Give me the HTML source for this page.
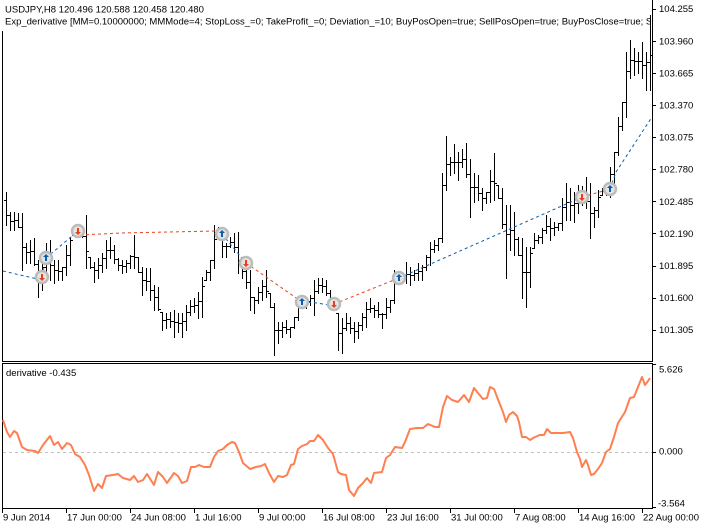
<!DOCTYPE html>
<html>
<head>
<meta charset="utf-8">
<style>
  html,body{margin:0;padding:0;background:#fff;}
  svg{display:block;}
  text{font-family:"Liberation Sans",Arial,sans-serif;font-size:9.5px;fill:#000;}
</style>
</head>
<body>
<svg width="705" height="528" viewBox="0 0 705 528" xmlns="http://www.w3.org/2000/svg">
  <defs>
    <clipPath id="hdr"><rect x="0" y="0" width="651" height="30"/></clipPath>
    <clipPath id="main"><rect x="3" y="0" width="649" height="361"/></clipPath>
  </defs>
  <rect width="705" height="528" fill="#fff"/>

  <!-- frames -->
  <g stroke="#000" stroke-width="1" shape-rendering="crispEdges" fill="none">
    <path d="M2.5 31V361.5H652.5V0"/>
    <path d="M2.5 363.5H652.5V508.5H2.5Z"/>
    <path d="M652 9.5h4M652 41.5h4M652 73.5h4M652 105.5h4M652 137.5h4M652 169.5h4M652 201.5h4M652 233.5h4M652 266.5h4M652 298.5h4M652 330.5h4"/>
    <path d="M652 364.5h4M652 452.5h4M652 507.5h4"/>
    <path d="M2.5 508V513M66.5 508V513M130.5 508V513M194.5 508V513M258.5 508V513M322.5 508V513M386.5 508V513M450.5 508V513M514.5 508V513M578.5 508V513M642.5 508V513"/>
  </g>

  <!-- price bars -->
  <g clip-path="url(#main)">
  <path stroke="#000" stroke-width="1" fill="none" shape-rendering="crispEdges" d="
M6.5 192V226M4 200.5h2M7 215.5h2
M10.5 212V231M8 215.5h2M11 221.5h2
M14.5 212V231M12 221.5h2M15 220.5h2
M18.5 213V228M16 220.5h2M19 227.5h2
M22.5 213V271M20 227.5h2M23 247.5h2
M26.5 243V264M24 247.5h2M27 252.5h2
M30.5 240V264M28 252.5h2M31 251.5h2
M34.5 238V266M32 251.5h2M35 264.5h2
M38.5 260V298M36 264.5h2M39 275.5h2
M42.5 257V291M40 275.5h2M43 267.5h2
M46.5 243V281M44 267.5h2M47 260.5h2
M50.5 240V281M48 260.5h2M51 265.5h2
M54.5 260V284M52 265.5h2M55 270.5h2
M58.5 260V281M56 270.5h2M59 271.5h2
M62.5 267V281M60 271.5h2M63 267.5h2
M66.5 245V276M64 267.5h2M67 255.5h2
M70.5 237V266M68 255.5h2M71 240.5h2
M74.5 225V236M72 235.5h2M75 231.5h2
M78.5 227V238M76 231.5h2M79 232.5h2
M82.5 227V238M80 232.5h2M83 236.5h2
M86.5 215V269M84 236.5h2M87 251.5h2
M90.5 257V269M88 257.5h2M91 267.5h2
M94.5 262V283M92 267.5h2M95 270.5h2
M98.5 258V279M96 270.5h2M99 265.5h2
M102.5 253V273M100 265.5h2M103 258.5h2
M106.5 240V269M104 258.5h2M107 250.5h2
M110.5 237V259M108 250.5h2M111 250.5h2
M114.5 245V264M112 250.5h2M115 259.5h2
M118.5 258V271M116 259.5h2M119 265.5h2
M122.5 260V274M120 265.5h2M123 266.5h2
M126.5 260V273M124 266.5h2M127 263.5h2
M130.5 255V269M128 263.5h2M131 256.5h2
M134.5 235V269M132 256.5h2M135 257.5h2
M138.5 257V273M136 257.5h2M139 272.5h2
M142.5 267V296M140 272.5h2M143 280.5h2
M146.5 268V291M144 280.5h2M147 281.5h2
M150.5 268V301M148 281.5h2M151 290.5h2
M154.5 285V311M152 290.5h2M155 297.5h2
M158.5 287V311M156 297.5h2M159 309.5h2
M162.5 312V331M160 312.5h2M163 320.5h2
M166.5 313V329M164 320.5h2M167 319.5h2
M170.5 312V328M168 319.5h2M171 321.5h2
M174.5 310V338M172 321.5h2M175 322.5h2
M178.5 313V333M176 322.5h2M179 323.5h2
M182.5 313V338M180 323.5h2M183 321.5h2
M186.5 305V331M184 321.5h2M187 312.5h2
M190.5 300V316M188 312.5h2M191 306.5h2
M194.5 298V313M192 306.5h2M195 305.5h2
M198.5 292V319M196 305.5h2M199 301.5h2
M202.5 277V318M200 301.5h2M203 286.5h2
M206.5 270V281M204 280.5h2M207 272.5h2
M210.5 260V281M208 272.5h2M211 260.5h2
M214.5 225V269M212 260.5h2M215 239.5h2
M218.5 227V238M216 237.5h2M219 237.5h2
M222.5 230V258M220 237.5h2M223 246.5h2
M226.5 243V258M224 246.5h2M227 246.5h2
M230.5 237V248M228 246.5h2M231 242.5h2
M234.5 233V253M232 242.5h2M235 247.5h2
M238.5 232V274M236 247.5h2M239 260.5h2
M242.5 258V279M240 260.5h2M243 271.5h2
M246.5 262V289M244 271.5h2M247 282.5h2
M250.5 270V311M248 282.5h2M251 297.5h2
M254.5 297V314M252 297.5h2M255 300.5h2
M258.5 287V304M256 300.5h2M259 292.5h2
M262.5 280V301M260 292.5h2M263 286.5h2
M266.5 270V298M264 286.5h2M267 291.5h2
M270.5 293V308M268 293.5h2M271 307.5h2
M274.5 303V356M272 307.5h2M275 330.5h2
M278.5 322V344M276 330.5h2M279 330.5h2
M282.5 322V338M280 330.5h2M283 327.5h2
M286.5 320V334M284 327.5h2M287 329.5h2
M290.5 327V338M288 329.5h2M291 327.5h2
M294.5 317V329M292 327.5h2M295 317.5h2
M298.5 297V321M296 317.5h2M299 305.5h2
M302.5 297V309M300 305.5h2M303 302.5h2
M306.5 298V309M304 302.5h2M307 301.5h2
M310.5 295V306M308 301.5h2M311 298.5h2
M314.5 280V316M312 298.5h2M315 291.5h2
M318.5 278V294M316 291.5h2M319 285.5h2
M322.5 278V293M320 285.5h2M323 286.5h2
M326.5 280V296M324 286.5h2M327 293.5h2
M330.5 290V309M328 293.5h2M331 302.5h2
M334.5 302V309M332 302.5h2M335 308.5h2
M338.5 313V351M336 313.5h2M339 333.5h2
M342.5 318V354M340 333.5h2M343 328.5h2
M346.5 313V331M344 328.5h2M347 323.5h2
M350.5 317V334M348 323.5h2M351 328.5h2
M354.5 322V343M352 328.5h2M355 331.5h2
M358.5 322V339M356 331.5h2M359 325.5h2
M362.5 313V331M360 325.5h2M363 317.5h2
M366.5 302V328M364 317.5h2M367 309.5h2
M370.5 298V313M368 309.5h2M371 308.5h2
M374.5 305V318M372 308.5h2M375 310.5h2
M378.5 302V318M376 310.5h2M379 314.5h2
M382.5 313V329M380 314.5h2M383 314.5h2
M386.5 298V319M384 314.5h2M387 307.5h2
M390.5 300V313M388 307.5h2M391 300.5h2
M394.5 270V304M392 300.5h2M395 281.5h2
M398.5 272V281M396 280.5h2M399 277.5h2
M402.5 277V283M400 277.5h2M403 277.5h2
M406.5 262V284M404 277.5h2M407 274.5h2
M410.5 267V286M408 274.5h2M411 275.5h2
M414.5 270V281M412 275.5h2M415 273.5h2
M418.5 263V281M416 273.5h2M419 271.5h2
M422.5 265V281M420 271.5h2M423 267.5h2
M426.5 255V271M424 267.5h2M427 257.5h2
M430.5 242V266M428 257.5h2M431 249.5h2
M434.5 240V253M432 249.5h2M435 245.5h2
M438.5 238V251M436 245.5h2M439 238.5h2
M442.5 173V243M440 238.5h2M443 185.5h2
M446.5 136V191M444 185.5h2M447 164.5h2
M450.5 157V176M448 164.5h2M451 162.5h2
M454.5 144V174M452 162.5h2M455 162.5h2
M458.5 152V181M456 162.5h2M459 162.5h2
M462.5 149V168M460 162.5h2M463 159.5h2
M466.5 143V178M464 159.5h2M467 174.5h2
M470.5 159V218M468 174.5h2M471 187.5h2
M474.5 173V203M472 187.5h2M475 187.5h2
M478.5 175V201M476 187.5h2M479 193.5h2
M482.5 188V211M480 193.5h2M483 198.5h2
M486.5 192V204M484 198.5h2M487 192.5h2
M490.5 170V203M488 192.5h2M491 181.5h2
M494.5 153V201M492 181.5h2M495 183.5h2
M498.5 185V199M496 185.5h2M499 198.5h2
M502.5 188V229M500 198.5h2M503 224.5h2
M506.5 205V279M504 224.5h2M507 234.5h2
M510.5 205V251M508 234.5h2M511 230.5h2
M514.5 212V256M512 230.5h2M515 239.5h2
M518.5 237V256M516 239.5h2M519 255.5h2
M522.5 238V299M520 255.5h2M523 272.5h2
M526.5 247V308M524 272.5h2M527 272.5h2
M530.5 247V288M528 272.5h2M531 253.5h2
M534.5 233V249M532 248.5h2M535 240.5h2
M538.5 235V244M536 240.5h2M539 237.5h2
M542.5 228V244M540 237.5h2M543 230.5h2
M546.5 215V234M544 230.5h2M547 226.5h2
M550.5 218V241M548 226.5h2M551 228.5h2
M554.5 222V236M552 228.5h2M555 227.5h2
M558.5 223V231M556 227.5h2M559 223.5h2
M562.5 198V231M560 223.5h2M563 207.5h2
M566.5 183V221M564 207.5h2M567 202.5h2
M570.5 188V221M568 202.5h2M571 205.5h2
M574.5 192V223M572 205.5h2M575 203.5h2
M578.5 185V214M576 203.5h2M579 197.5h2
M582.5 186V206M580 197.5h2M583 193.5h2
M586.5 177V209M584 193.5h2M587 201.5h2
M590.5 183V239M588 201.5h2M591 213.5h2
M594.5 207V228M592 213.5h2M595 210.5h2
M598.5 190V218M596 210.5h2M599 197.5h2
M602.5 188V196M600 195.5h2M603 191.5h2
M606.5 187V196M604 191.5h2M607 187.5h2
M610.5 167V198M608 187.5h2M611 174.5h2
M614.5 152V184M612 174.5h2M615 152.5h2
M618.5 117V156M616 152.5h2M619 126.5h2
M622.5 102V131M620 126.5h2M623 102.5h2
M626.5 52V118M624 102.5h2M627 71.5h2
M630.5 40V79M628 71.5h2M631 60.5h2
M634.5 48V76M632 60.5h2M635 61.5h2
M638.5 52V74M636 61.5h2M639 61.5h2
M642.5 42V79M640 61.5h2M643 65.5h2
M646.5 52V91M644 65.5h2M647 62.5h2
M650.5 15V91M648 62.5h2M651 55.5h2"/>

  <!-- trade lines -->
  <g fill="none" stroke-width="1" stroke-dasharray="3,3">
    <polyline stroke="#0b5cad" points="3,271 20,275 38,279"/>
    <polyline stroke="#e8401c" points="42,277 46,258"/>
    <polyline stroke="#0b5cad" points="46,258 78,231"/>
    <polyline stroke="#e8401c" points="80,235 122,233 215,231"/>
    <polyline stroke="#0b5cad" points="222,234 246,263"/>
    <polyline stroke="#e8401c" points="246,263 302,302"/>
    <polyline stroke="#0b5cad" points="302,302 317,303 334,306"/>
    <polyline stroke="#e8401c" points="334,304 399,278"/>
    <polyline stroke="#0b5cad" points="399,278 582,197"/>
    <polyline stroke="#e8401c" points="582,197 610,189"/>
    <polyline stroke="#0b5cad" points="610,189 616,172 652,117"/>
  </g>

  <!-- trade markers -->
  <g>
    <g fill="#e4e4e4" stroke="#bcbcbc" stroke-width="2.5">
      <circle cx="42" cy="277" r="6"/>
      <circle cx="46" cy="258" r="6"/>
      <circle cx="78" cy="231" r="6"/>
      <circle cx="222" cy="234" r="6"/>
      <circle cx="246" cy="263" r="6"/>
      <circle cx="302" cy="302" r="6"/>
      <circle cx="334" cy="304" r="6"/>
      <circle cx="399" cy="278" r="6"/>
      <circle cx="582" cy="197" r="6"/>
      <circle cx="610" cy="189" r="6"/>
    </g>
    <g fill="#e8401c">
      <path transform="translate(42,277)" d="M0 4L3 1H1V-3H-1V1H-3Z"/>
      <path transform="translate(78,231)" d="M0 4L3 1H1V-3H-1V1H-3Z"/>
      <path transform="translate(246,263)" d="M0 4L3 1H1V-3H-1V1H-3Z"/>
      <path transform="translate(334,304)" d="M0 4L3 1H1V-3H-1V1H-3Z"/>
      <path transform="translate(582,197)" d="M0 4L3 1H1V-3H-1V1H-3Z"/>
    </g>
    <g fill="#0b5cad">
      <path transform="translate(46,258)" d="M0 -4L3 -1H1V3H-1V-1H-3Z"/>
      <path transform="translate(222,234)" d="M0 -4L3 -1H1V3H-1V-1H-3Z"/>
      <path transform="translate(302,302)" d="M0 -4L3 -1H1V3H-1V-1H-3Z"/>
      <path transform="translate(399,278)" d="M0 -4L3 -1H1V3H-1V-1H-3Z"/>
      <path transform="translate(610,189)" d="M0 -4L3 -1H1V3H-1V-1H-3Z"/>
    </g>
  </g>
  </g>

  <!-- header text -->
  <g clip-path="url(#hdr)">
    <text x="5" y="12.5">USDJPY,H8  120.496 120.588 120.458 120.480</text>
    <text x="5" y="24.5">Exp_derivative [MM=0.10000000; MMMode=4; StopLoss_=0; TakeProfit_=0; Deviation_=10; BuyPosOpen=true; SellPosOpen=true; BuyPosClose=true; SellPosClose=true]</text>
  </g>

  <!-- price axis labels -->
  <g>
    <text x="659" y="12.2">104.255</text>
    <text x="659" y="44.3">103.960</text>
    <text x="659" y="76.4">103.665</text>
    <text x="659" y="108.5">103.370</text>
    <text x="659" y="140.6">103.075</text>
    <text x="659" y="172.7">102.780</text>
    <text x="659" y="204.8">102.485</text>
    <text x="659" y="236.9">102.190</text>
    <text x="659" y="269">101.895</text>
    <text x="659" y="301.1">101.600</text>
    <text x="659" y="333.2">101.305</text>
  </g>

  <!-- indicator -->
  <line x1="3" y1="452.5" x2="652" y2="452.5" stroke="#c0c0c0" stroke-width="1" stroke-dasharray="3,3" shape-rendering="crispEdges"/>
  <text x="6" y="376">derivative -0.435</text>
  <polyline fill="none" stroke="#ff7f50" stroke-width="2" stroke-linejoin="round" points="3,420 7,432 10,437 14,431 17,433 22,447 27,450 35,451 38,453 43,445 50,436 54,445 58,442 62,449 67,443 71,445 75,454 80,457 85,465 89,475 94,491 98,484 102,488 106,476 113,475 118,474 123,478 130,480 134,476 138,482 143,480 147,474 154,485 158,472 163,477 167,483 174,473 178,476 182,483 187,481 191,467 195,467 199,465 204,467 210,467 214,457 218,451 223,449 227,445 232,442 235,443 239,452 243,463 250,469 256,467 261,466 265,464 269,473 274,482 278,476 283,477 287,475 291,465 294,464 298,449 302,446 307,444 310,441 314,441 318,435 323,440 328,448 333,454 338,472 341,474 346,475 349,490 354,496 358,488 363,483 367,478 371,483 374,473 382,472 386,458 390,455 395,447 402,448 405,442 410,429 417,428 423,428 428,424 435,427 439,427 443,407 447,396 452,400 458,402 464,395 469,402 474,388 478,393 483,399 487,398 490,387 494,389 499,402 503,412 506,422 509,415 513,412 517,416 519,422 522,437 526,437 530,440 535,437 540,435 544,435 547,429 551,433 557,433 563,433 570,432 573,438 577,452 580,459 582,467 586,460 588,465 591,475 594,474 598,469 602,463 606,452 610,449 614,437 618,423 625,412 630,398 634,397 638,387 642,377 645,385 648,381 650,378"/>
  <text x="659" y="372.5">5.626</text>
  <text x="659" y="454.5">0.000</text>
  <text x="658" y="506.5">-3.564</text>

  <!-- time axis labels -->
  <g>
    <text x="3" y="520.5">9 Jun 2014</text>
    <text x="67" y="520.5">17 Jun 00:00</text>
    <text x="131" y="520.5">24 Jun 08:00</text>
    <text x="195" y="520.5">1 Jul 16:00</text>
    <text x="259" y="520.5">9 Jul 00:00</text>
    <text x="323" y="520.5">16 Jul 08:00</text>
    <text x="387" y="520.5">23 Jul 16:00</text>
    <text x="451" y="520.5">31 Jul 00:00</text>
    <text x="515" y="520.5">7 Aug 08:00</text>
    <text x="579" y="520.5">14 Aug 16:00</text>
    <text x="643" y="520.5">22 Aug 00:00</text>
  </g>
</svg>
</body>
</html>
